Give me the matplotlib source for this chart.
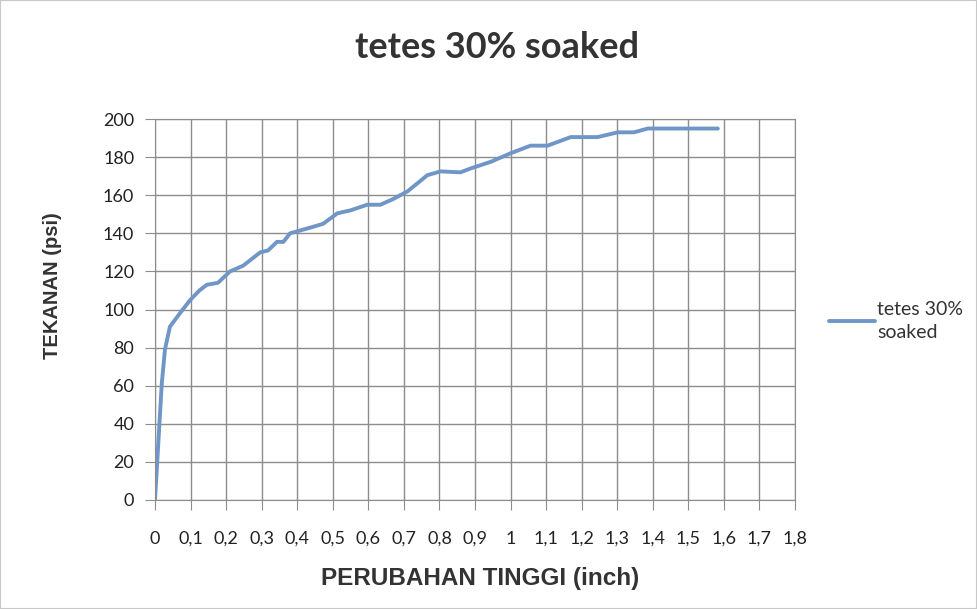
import matplotlib.pyplot as plt
from matplotlib.ticker import MultipleLocator, FuncFormatter

# data
perubahan_tinggi = [0, 0.019, 0.028, 0.042, 0.07, 0.099, 0.125, 0.146, 0.177, 0.211, 0.248,
                    0.296, 0.318, 0.343, 0.361, 0.380, 0.437, 0.473, 0.513, 0.549, 0.597,
                    0.634, 0.67, 0.710, 0.766, 0.803, 0.859, 0.887, 0.944, 1.0, 1.056,
                    1.104, 1.169, 1.245, 1.301, 1.347, 1.386, 1.45, 1.52, 1.583]
tekanan = [0, 61, 79, 91, 98, 105, 110, 113, 114, 120, 123,
           130, 131, 135.5, 135.5, 140, 143, 145, 150.5, 152, 155,
           155, 158, 162, 170.5, 172.5, 172, 174, 177.5, 182, 186,
           186, 190.5, 190.5, 193, 193, 195, 195, 195, 195]
seri = 'tetes 30%\nsoaked'

fig = plt.figure(figsize=(9.77, 6.09), dpi=100)
ax = fig.add_axes([155/977, 1 - 500/609, 640/977, 381/609])

ax.plot(perubahan_tinggi, tekanan, color='#7096c8', lw=2.8,
        solid_joinstyle='round', solid_capstyle='round', label=seri)

ax.set_xlim(0, 1.8)
ax.set_ylim(0, 200)
ax.xaxis.set_major_locator(MultipleLocator(0.1))
ax.yaxis.set_major_locator(MultipleLocator(20))
ax.xaxis.set_major_formatter(FuncFormatter(lambda v, p: ('%g' % round(v, 1)).replace('.', ',')))
ax.grid(True, color='#8c8c8c', lw=1)
ax.set_axisbelow(True)
for s in ax.spines.values():
    s.set_color('#8c8c8c')
ax.tick_params(direction='out', length=7, color='#8c8c8c', labelsize=13,
               labelcolor='#222222')
ax.tick_params(axis='y', pad=8)
ax.tick_params(axis='x', pad=15)
for lab in ax.get_xticklabels() + ax.get_yticklabels():
    lab.set_family('Lato')

fig.text(480/977, 1 - 578/609, 'PERUBAHAN TINGGI (inch)', ha='center', va='center',
         fontsize=17.5, fontweight='bold', family='Liberation Sans', color='#333333')
fig.text(53/977, 1 - 286/609, 'TEKANAN (psi)', ha='center', va='center', rotation=90,
         fontsize=14.5, fontweight='bold', family='Liberation Sans', color='#333333')
fig.text(497/977, 1 - 48/609, 'tetes 30% soaked', ha='center', va='center',
         fontsize=26, fontweight='bold', family='Lato', color='#333333')

leg = ax.legend(loc='center left', bbox_to_anchor=(1.025, 0.47), frameon=False,
                prop={'family': 'Lato', 'size': 14}, handlelength=2.4,
                handletextpad=0.1, labelcolor='#333333')
for t in leg.get_texts():
    t.set_linespacing(1.45)

# thin chart area border
fig.patches.append(plt.Rectangle((0, 0), 1, 1, transform=fig.transFigure,
                                 fill=False, edgecolor='#c8c8c8', lw=1.5))

fig.savefig('out.png', dpi=100)
